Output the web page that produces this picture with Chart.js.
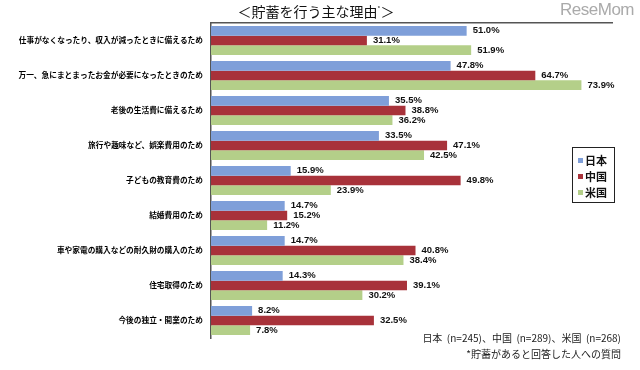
<!DOCTYPE html>
<html lang="ja">
<head>
<meta charset="utf-8">
<script src="https://cdn.jsdelivr.net/npm/chart.js@4"></script>
<style>
    body { margin: 0; background: #fff; }
    #wrap { position: relative; width: 640px; height: 370px; font-family: "Noto Sans CJK JP", sans-serif; }
    #title { position: absolute; left: 0; width: 632px; top: 1px; text-align: center; font-size: 14px; color: #111; }
    #title sup { font-size: 6px; }
    #logo { position: absolute; right: 6px; top: 0px; font-family: "Liberation Sans", sans-serif; font-size: 17px; color: #aaa; letter-spacing: -0.5px; }
    #legend { position: absolute; left: 572px; top: 147px; width: 43px; height: 56px; border: 1px solid #222; box-sizing: border-box; padding: 4px 0 0 5px; }
    .lg-item { font-size: 11px; font-weight: bold; line-height: 16px; color: #111; }
    .lg-item span { display: inline-block; width: 5px; height: 5px; margin-right: 2px; vertical-align: 2px; }
    .note { position: absolute; right: 19px; font-size: 10px; color: #222; white-space: pre; }
</style>
</head>
<body>
<div id="wrap">
    <canvas id="chart" width="640" height="370"></canvas>
    <div id="title">＜貯蓄を行う主な理由<sup>*</sup>＞</div>
    <div id="logo">ReseMom</div>
    <div id="legend"></div>
    <div class="note" style="top: 330px;">日本  (n=245)、中国  (n=289)、米国  (n=268)</div>
    <div class="note" style="top: 346px;">*貯蓄があると回答した人への質問</div>
</div>
<script>
// カテゴリ (理由)
const reasons = [
    '仕事がなくなったり、収入が減ったときに備えるため',
    '万一、急にまとまったお金が必要になったときのため',
    '老後の生活費に備えるため',
    '旅行や趣味など、娯楽費用のため',
    '子どもの教育費のため',
    '結婚費用のため',
    '車や家電の購入などの耐久財の購入のため',
    '住宅取得のため',
    '今後の独立・開業のため'
];

const countries = ['日本', '中国', '米国'];
const japanValues = [51.0, 47.8, 35.5, 33.5, 15.9, 14.7, 14.7, 14.3, 8.2];
const chinaValues = [31.1, 64.7, 38.8, 47.1, 49.8, 15.2, 40.8, 39.1, 32.5];
const usaValues = [51.9, 73.9, 36.2, 42.5, 23.9, 11.2, 38.4, 30.2, 7.8];
const colors = ['#7f9fd9', '#a8323a', '#b4cf89'];

// 凡例 (HTML)
const legendEl = document.getElementById('legend');
countries.forEach((name, i) => {
    legendEl.innerHTML += `<div class="lg-item"><span style="background:${colors[i]}"></span>${name}</div>`;
});

// バーの右側に値ラベルを描く
const valueLabels = {
    id: 'valueLabels',
    afterDatasetsDraw(chart) {
        const ctx = chart.ctx;
        ctx.save();
        ctx.font = 'bold 9.5px "Liberation Sans", Arial, sans-serif';
        ctx.fillStyle = '#111';
        ctx.textBaseline = 'middle';
        chart.data.datasets.forEach((ds, i) => {
            chart.getDatasetMeta(i).data.forEach((bar, j) => {
                ctx.fillText(ds.data[j].toFixed(1) + '%', bar.x + 6, bar.y);
            });
        });
        ctx.restore();
    }
};

new Chart(document.getElementById('chart'), {
    type: 'bar',
    data: {
        labels: reasons,
        datasets: [
            { label: countries[0], data: japanValues, backgroundColor: colors[0] },
            { label: countries[1], data: chinaValues, backgroundColor: colors[1] },
            { label: countries[2], data: usaValues, backgroundColor: colors[2] }
        ]
    },
    options: {
        indexAxis: 'y',
        responsive: false,
        animation: false,
        categoryPercentage: 0.83,
        barPercentage: 1,
        layout: { padding: { top: 23, bottom: 32, right: 28, left: 0 } },
        plugins: {
            legend: { display: false },
            tooltip: { enabled: false }
        },
        scales: {
            x: {
                position: 'top',
                min: 0,
                max: 80,
                grid: { display: false, drawTicks: false },
                ticks: { display: false },
                border: { display: true, color: '#555', width: 1.5 },
                afterFit: s => { s.height = 0; }
            },
            y: {
                grid: { display: false, drawTicks: false },
                border: { display: true, color: '#555', width: 1.5 },
                ticks: {
                    padding: 8,
                    color: '#000',
                    font: { family: '"Noto Sans CJK JP", sans-serif', size: 7.7, weight: 'bold' }
                },
                afterFit: s => { s.width = 211; }
            }
        }
    },
    plugins: [valueLabels]
});
</script>
</body>
</html>
